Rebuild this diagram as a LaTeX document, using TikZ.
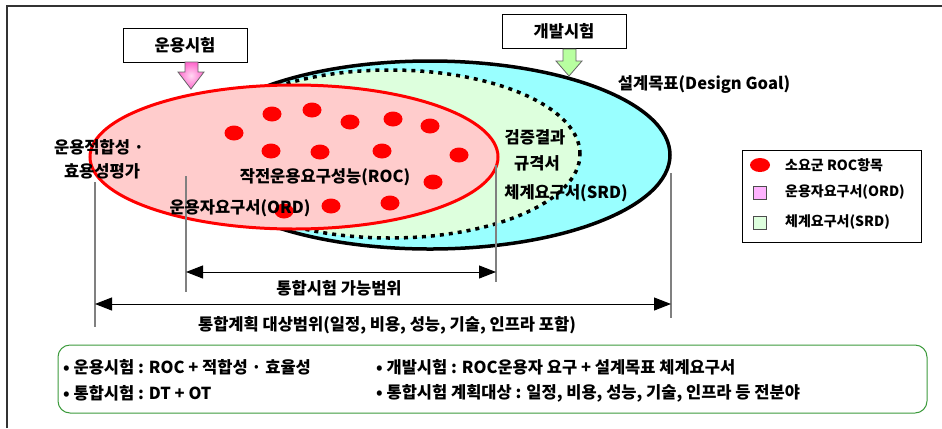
\documentclass[tikz,border=0pt]{standalone}
\usepackage{fontspec}
\setmainfont{Noto Sans CJK KR}
\usetikzlibrary{arrows.meta,shapes.geometric}
\definecolor{cyanfill}{HTML}{99FFFF}
\definecolor{greenfill}{HTML}{DDFFDD}
\definecolor{pinkfill}{HTML}{FFCCCC}
\definecolor{legpink}{HTML}{FFB3FF}
\definecolor{boxgreen}{HTML}{3C9A3C}
\definecolor{vgray}{HTML}{808080}
\definecolor{arrpink}{HTML}{FF66CC}
\definecolor{arrgreen}{HTML}{B8FFA0}
\begin{document}
\begin{tikzpicture}[x=1bp,y=-1bp,
  lbl/.style={font=\bfseries\fontsize{16.5bp}{19bp}\selectfont, inner sep=0pt},
  leg/.style={font=\bfseries\fontsize{14bp}{16bp}\selectfont, inner sep=0pt, anchor=west},
  testbox/.style={draw, line width=0.8bp, minimum width=124bp, minimum height=34bp, font=\bfseries\fontsize{16.5bp}{19bp}\selectfont, inner sep=0pt},
  vline/.style={draw=vgray, line width=1.1bp},
  dimarrow/.style={line width=1bp, {Triangle[length=17bp,width=13bp]}-{Triangle[length=17bp,width=13bp]}},
  rocdot/.style={fill=red, draw=none},
  legsq/.style={draw=black!70, line width=0.8bp},
]
\useasboundingbox (0,0) rectangle (942,428);
% frame
\draw[line width=1.5bp, black!80] (7,428) -- (7,6) -- (942,6);

% ellipses
\filldraw[fill=cyanfill, draw=black, line width=3.5bp] (430,155) ellipse [x radius=240bp, y radius=94bp];
\fill[greenfill] (390,154) ellipse [x radius=190bp, y radius=84bp];
\draw[dash pattern=on 4bp off 5bp, line width=3.5bp] (390,154) ellipse [x radius=190bp, y radius=84bp];
\filldraw[fill=pinkfill, draw=red, line width=3bp] (294,157) ellipse [x radius=204bp, y radius=72bp];

% ROC dots
\foreach \p in {(234,133),(272,114),(312,110),(350,122),(393,119),(430,126),
                (271,151),(320,152),(382,151),(459,155),(433,182),(390,203),(331,206),(284,211)}
  \fill[rocdot] \p ellipse [x radius=9.5bp, y radius=7.5bp];

% vertical guide lines
\coordinate (vat) at (95,182);  \coordinate (vab) at (95,327);
\coordinate (vbt) at (186,176); \coordinate (vbb) at (186,292);
\coordinate (vct) at (496,165); \coordinate (vcb) at (496,282);
\coordinate (vdt) at (671,173); \coordinate (vdb) at (671,318);
\draw[vline] (vat) -- (vab);
\draw[vline] (vbt) -- (vbb);
\draw[vline] (vct) -- (vcb);
\draw[vline] (vdt) -- (vdb);

% range arrows
\coordinate (a1l) at (186,272); \coordinate (a1r) at (496,272);
\coordinate (a2l) at (95,304);  \coordinate (a2r) at (671,304);
\draw[dimarrow] (a1l) -- (a1r);
\draw[dimarrow] (a2l) -- (a2r);
\node[lbl] (r1) at (339,288) {통합시험 가능범위};
\node[lbl] (r2) at (387,325) {통합계획 대상범위(일정, 비용, 성능, 기술, 인프라 포함)};

% test boxes and block arrows
\node[testbox] (op) at (185,45) {운용시험};
\node[testbox] (dev) at (564,31.5) {개발시험};
\shadedraw[inner color=white!75!arrpink, outer color=arrpink, draw=black!60, line width=0.8bp]
  (185,62) -- (198,62) -- (198,72) -- (204,72) -- (191,89) -- (178,72) -- (185,72) -- cycle;
\filldraw[fill=arrgreen, draw=black!60, line width=0.8bp]
  (563,49) -- (576,49) -- (576,61) -- (582,61) -- (569,76) -- (556,61) -- (563,61) -- cycle;

% labels
\node[lbl] (t1) at (99,147) {운용적합성 ·};
\node[lbl] (t2) at (102,171) {효용성평가};
\node[lbl] (roc) at (325,177) {작전운용요구성능(ROC)};
\node[lbl] (ord) at (240,208) {운용자요구서(ORD)};
\node[lbl] (g1) at (535,137) {검증결과};
\node[lbl] (g2) at (537,163) {규격서};
\node[lbl] (srd) at (566,193) {체계요구서(SRD)};
\node[lbl] (dg) at (704,85) {설계목표(Design Goal)};

% legend
\draw[line width=1bp] (742,150) rectangle (921,242);
\fill[red] (760,165) ellipse [x radius=10bp, y radius=7bp];
\filldraw[legsq, fill=legpink] (753,186) rectangle (766,199);
\filldraw[legsq, fill=greenfill] (753,216) rectangle (766,229);
\node[leg] (l1) at (785,165) {소요군 ROC항목};
\node[leg] (l2) at (785,192) {운용자요구서(ORD)};
\node[leg] (l3) at (785,222) {체계요구서(SRD)};

% bottom summary box
\draw[boxgreen, line width=1bp, rounded corners=12bp] (58,345) rectangle (927,413);
\node[lbl, anchor=west] (b1) at (63,367) {• 운용시험 : ROC + 적합성 · 효율성};
\node[lbl, anchor=west] (b2) at (63,393) {• 통합시험 : DT + OT};
\node[lbl, anchor=west] (b3) at (376,367) {• 개발시험 : ROC운용자 요구 + 설계목표 체계요구서};
\node[lbl, anchor=west] (b4) at (376,393) {• 통합시험 계획대상 : 일정, 비용, 성능, 기술, 인프라 등 전분야};
\end{tikzpicture}
\end{document}
